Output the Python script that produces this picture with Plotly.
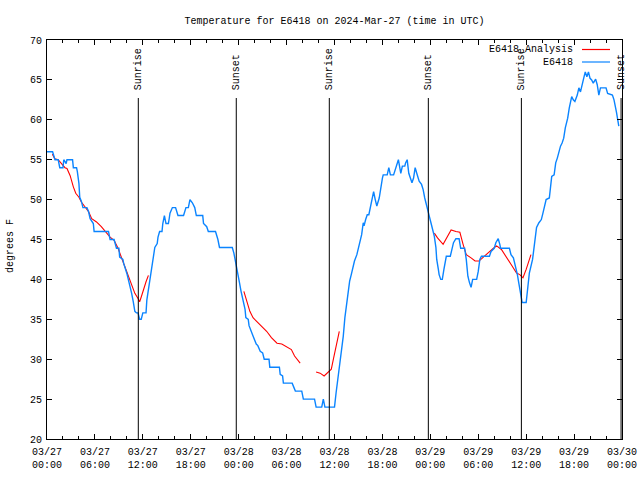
import pandas as pd
import plotly.graph_objects as go

# ---- data (hours after 2024-03-27 00:00 UTC, degrees F) ----
obs_hours = [0.0, 0.7, 1.0, 1.4, 1.6, 2.0, 2.1, 2.4, 2.5, 3.2, 3.3, 3.7, 3.8, 4.0, 4.1, 4.3, 4.5, 5.0, 5.2, 5.4,
             5.8, 5.9, 7.7, 7.9, 8.4, 8.7, 9.0, 9.1, 9.5, 9.6, 10.0, 10.2, 10.6, 10.8, 11.0, 11.2, 11.4, 11.6, 11.8, 12.0,
             12.4, 12.5, 12.8, 13.0, 13.2, 13.4, 13.5, 13.8, 13.9, 14.1, 14.4, 14.5, 14.7, 14.9, 15.2, 15.3, 15.4, 15.7, 16.1, 16.4,
             17.1, 17.4, 17.7, 17.9, 18.2, 18.5, 18.7, 19.5, 19.6, 20.0, 20.2, 21.1, 21.4, 21.6, 23.2, 23.4, 23.65, 23.8, 23.9, 24.1,
             24.3, 24.5, 24.8, 24.9, 25.2, 25.3, 25.6, 25.8, 26.2, 26.4, 26.7, 27.0, 27.2, 27.8, 27.9, 29.1, 29.2, 29.5, 29.6, 30.7,
             30.9, 31.1, 31.9, 32.1, 33.5, 33.7, 34.4, 34.6, 34.8, 36.0, 36.2, 36.4, 36.7, 36.9, 37.1, 37.3, 37.5, 37.7, 37.9, 38.1,
             38.3, 38.5, 38.8, 39.0, 39.2, 39.4, 39.6, 39.7, 39.9, 40.1, 40.3, 40.5, 40.7, 40.9, 41.1, 41.3, 41.6, 41.8, 42.0, 42.1,
             42.6, 42.8, 43.0, 43.4, 43.6, 43.8, 44.0, 44.3, 44.5, 44.8, 44.9, 45.1, 45.3, 45.5, 45.7, 45.9, 46.1, 46.3, 46.6, 46.9,
             47.1, 47.3, 47.5, 47.7, 47.9, 48.1, 48.3, 48.5, 48.7, 48.8, 49.0, 49.1, 49.3, 49.5, 49.7, 49.9, 50.0, 50.5, 50.7, 50.9,
             51.2, 51.6, 51.8, 52.3, 52.5, 52.7, 52.9, 53.1, 53.3, 53.8, 54.0, 54.2, 54.4, 55.4, 55.6, 56.0, 56.2, 56.5, 56.7, 56.8,
             57.9, 58.1, 58.4, 58.6, 58.9, 59.1, 59.3, 59.5, 60.0, 60.2, 60.4, 60.8, 61.1, 61.3, 61.6, 61.9, 62.1, 62.3, 62.5, 62.9,
             63.0, 63.2, 63.5, 63.7, 63.9, 64.1, 64.3, 64.5, 64.7, 64.9, 65.2, 65.4, 65.5, 65.7, 65.9, 66.1, 66.4, 66.6, 66.8, 67.0,
             67.2, 67.4, 67.6, 67.8, 68.0, 68.2, 68.4, 68.7, 68.9, 69.1, 69.3, 70.0, 70.2, 70.8, 71.0, 71.3, 71.5, 71.6]
obs_temps = [56, 56, 55, 55, 54, 54, 55, 54.5, 55, 55, 54, 54, 53.5, 52, 50.3, 49.8, 49, 49, 48.5, 47.6,
             47, 46, 46, 45, 45, 43.9, 43.9, 42.8, 42.5, 42, 40.75, 40, 38.25, 37.2, 36, 35.8, 35.8, 35, 35, 35.8,
             35.8, 37.4, 39.5, 40.5, 42, 43.3, 44, 44.5, 45.3, 46, 46, 47, 48, 47, 47, 47.6, 48.3, 49, 49, 48,
             48, 49, 49, 50, 49.6, 49, 48, 48, 47, 46.6, 46, 46, 45, 44, 44, 43.3, 42.1, 41.25, 40.8, 39.6,
             38.5, 37.5, 36.25, 35.2, 35, 34.2, 33.3, 32.9, 31.9, 31.7, 31, 30.8, 30, 30, 29, 29, 28.1, 27.9, 27, 27,
             26.5, 26, 26, 25, 25, 24, 24, 25, 24, 24, 25.8, 27.3, 29.2, 30.8, 32.9, 35.2, 36.9, 38.5, 39.8, 40.6,
             41.5, 42.3, 43.1, 44, 44.8, 45.6, 47.1, 46.7, 47.5, 48.1, 48.1, 49, 50.2, 51, 50, 49.2, 50.2, 51.7, 52.7, 53.1,
             53.1, 54, 53.1, 53.1, 53.75, 54.6, 55, 53.3, 54.2, 54.2, 54.6, 55, 53.3, 52.7, 52.1, 52.7, 54, 53.3, 52.3, 51.9,
             51.25, 50.2, 49.5, 48.5, 47.8, 47, 46.25, 45.4, 44, 42.5, 41.3, 40.6, 40, 40, 41.25, 42.1, 42.9, 42.9, 43.9, 44.6,
             45.1, 45.1, 43.9, 43.9, 42.5, 40.4, 39.6, 39, 40, 40, 41, 42.5, 42.9, 42.9, 43.5, 43.9, 44.6, 45.1, 44.4, 43.9,
             43.9, 43.1, 42.7, 41.9, 40.6, 39.4, 38.3, 37.1, 37.1, 39.2, 40.8, 42.5, 44.6, 46.5, 47.1, 47.5, 48.3, 49.4, 50, 50.2,
             51.5, 52.9, 53.1, 54.6, 55.2, 56, 56.7, 57.1, 57.7, 59, 60.2, 61.5, 61.9, 62.9, 62.5, 62.3, 63.1, 64, 63.5, 64.2,
             65.2, 66, 65.4, 66, 65.2, 65, 64.6, 65.1, 64.4, 63.1, 64, 64, 63.3, 63.1, 62.5, 61, 60, 59.2]

ana_hours = [0.67, 1.0, 1.4, 1.8, 2.25, 2.5, 2.9, 3.3, 3.6, 4.0, 4.3, 4.75, 5.2, 5.6, 6.2, 6.8, 7.5, 7.9, 8.4, 8.9,
             9.3, 9.75, 10.2, 10.6, 11.0, 11.4, 11.6, 11.8, 12.1, 12.4, 12.7, 18.0,
             24.65, 25.0, 25.4, 25.8, 26.4, 26.9, 27.5, 28.1, 28.8, 29.4, 30.2, 30.6, 31.0, 31.7, 32.7,
             33.7, 34.2, 34.7, 35.2, 35.6, 35.9, 36.2, 36.6, 42.0,
             48.5, 48.9, 49.6, 50.0, 50.3, 50.6, 51.2, 51.7, 52.1, 52.5, 53.1, 53.6, 54.1, 54.6, 55.2, 55.9, 56.3, 56.9,
             57.5, 58.1, 58.8, 59.2, 59.6, 60.0, 60.6]
ana_temps = [55.7, 55.1, 55, 54.5, 54, 53.9, 53, 51.6, 50.8, 50.3, 49.7, 49.1, 48.5, 47.6, 47.2, 46.6, 45.8, 45.3, 44.9, 43.9,
             42.8, 41.6, 40.3, 39.1, 38.25, 37.6, 37.2, 37.8, 38.9, 39.7, 40.5, None,
             38.5, 37.3, 36.0, 35.2, 34.6, 34, 33.5, 32.7, 32, 31.9, 31.5, 31.2, 30.4, 29.5, None,
             28.4, 28.25, 27.9, 28.4, 28.75, 30.2, 31.5, 33.5, None,
             45.8, 45.2, 44.4, 45.2, 45.8, 46.2, 46.0, 45.9, 44.4, 43.1, 42.7, 42.3, 42.3, 42.7, 43.3, 43.9, 44.2, 43.75,
             42.9, 41.9, 40.8, 40.6, 40.2, 41.25, 43.1]

sun_events = ["2024-03-27 11:26", "2024-03-27 23:42", "2024-03-28 11:21",
              "2024-03-28 23:45", "2024-03-29 11:24", "2024-03-29 23:53"]
sun_labels = ["Sunrise", "Sunset", "Sunrise", "Sunset", "Sunrise", "Sunset"]

series_names = ["E6418_Analysis", "E6418"]
series_colors = ["#ff0000", "#0a84ff"]

base = pd.Timestamp("2024-03-27 00:00")
obs_x = [base + pd.Timedelta(hours=h) for h in obs_hours]
ana_x = [base + pd.Timedelta(hours=h) for h in ana_hours]

FONT = "Liberation Mono, DejaVu Sans Mono, monospace"

fig = go.Figure()
fig.add_trace(go.Scatter(x=ana_x, y=ana_temps, mode="lines", name=series_names[0],
                         line=dict(color=series_colors[0], width=1.1), connectgaps=False, showlegend=False))
fig.add_trace(go.Scatter(x=obs_x, y=obs_temps, mode="lines", name=series_names[1],
                         line=dict(color=series_colors[1], width=1.4), showlegend=False))

L, R, T, B = 47, 18, 40, 41
W, H = 640, 480
pw, ph = W - L - R, H - T - B

def px_x(p):
    return (p - L) / pw

def px_y(p):
    return (H - B - p) / ph

shapes = []
annotations = []
for t, lab in zip(sun_events, sun_labels):
    shapes.append(dict(type="line", xref="x", yref="paper", x0=t, x1=t, y0=0, y1=px_y(98),
                       line=dict(color="black", width=1)))
    annotations.append(dict(x=t, y=px_y(92), xref="x", yref="paper", text=lab, textangle=-90,
                            showarrow=False, xanchor="center", yanchor="bottom",
                            font=dict(family=FONT, size=10, color="black")))

# legend (text on the left, sample line on the right)
for i, (nm, col) in enumerate(zip(series_names, series_colors)):
    yy = px_y(49.5 + 12.5 * i)
    annotations.append(dict(x=px_x(575), y=yy, xref="paper", yref="paper", text=nm, showarrow=False,
                            xanchor="right", yanchor="middle", font=dict(family=FONT, size=10, color="black")))
    shapes.append(dict(type="line", xref="paper", yref="paper", x0=px_x(582), x1=px_x(610), y0=yy, y1=yy,
                       line=dict(color=col, width=1.2)))

annotations.append(dict(x=px_x(10), y=px_y(246), xref="paper", yref="paper", text="degrees F", textangle=-90,
                        showarrow=False, xanchor="center", yanchor="middle",
                        font=dict(family=FONT, size=10, color="black")))

fig.update_layout(
    width=W, height=H,
    margin=dict(l=L, r=R, t=T, b=B, autoexpand=False),
    paper_bgcolor="white", plot_bgcolor="white",
    title=dict(text="Temperature for E6418 on 2024-Mar-27 (time in UTC)", x=0.5, xref="paper",
               y=1 - 20 / H, yref="container", xanchor="center", yanchor="middle",
               font=dict(family=FONT, size=10, color="black")),
    font=dict(family=FONT, size=10, color="black"),
    shapes=shapes, annotations=annotations,
    showlegend=False,
)
fig.update_xaxes(type="date", range=["2024-03-27 00:00", "2024-03-30 00:00"], automargin=False,
                 tick0="2024-03-27 00:00", dtick=6 * 3600 * 1000, tickformat="%m/%d<br>%H:%M",
                 ticks="inside", ticklen=5, tickcolor="black", mirror="allticks", ticklabelstandoff=3,
                 minor=dict(dtick=2 * 3600 * 1000, ticks="inside", ticklen=3, tickcolor="black"),
                 showline=True, linecolor="black", linewidth=1, showgrid=False, zeroline=False,
                 tickfont=dict(family=FONT, size=10, color="black"))
fig.update_yaxes(range=[20, 70], dtick=5, ticks="inside", ticklen=5, tickcolor="black", mirror="allticks",
                 automargin=False, ticklabelstandoff=2,
                 showline=True, linecolor="black", linewidth=1, showgrid=False, zeroline=False,
                 tickfont=dict(family=FONT, size=10, color="black"))

fig.write_html("out.html", config={"displayModeBar": False},
               post_script="document.body.style.margin='0';document.body.style.overflow='hidden';")
